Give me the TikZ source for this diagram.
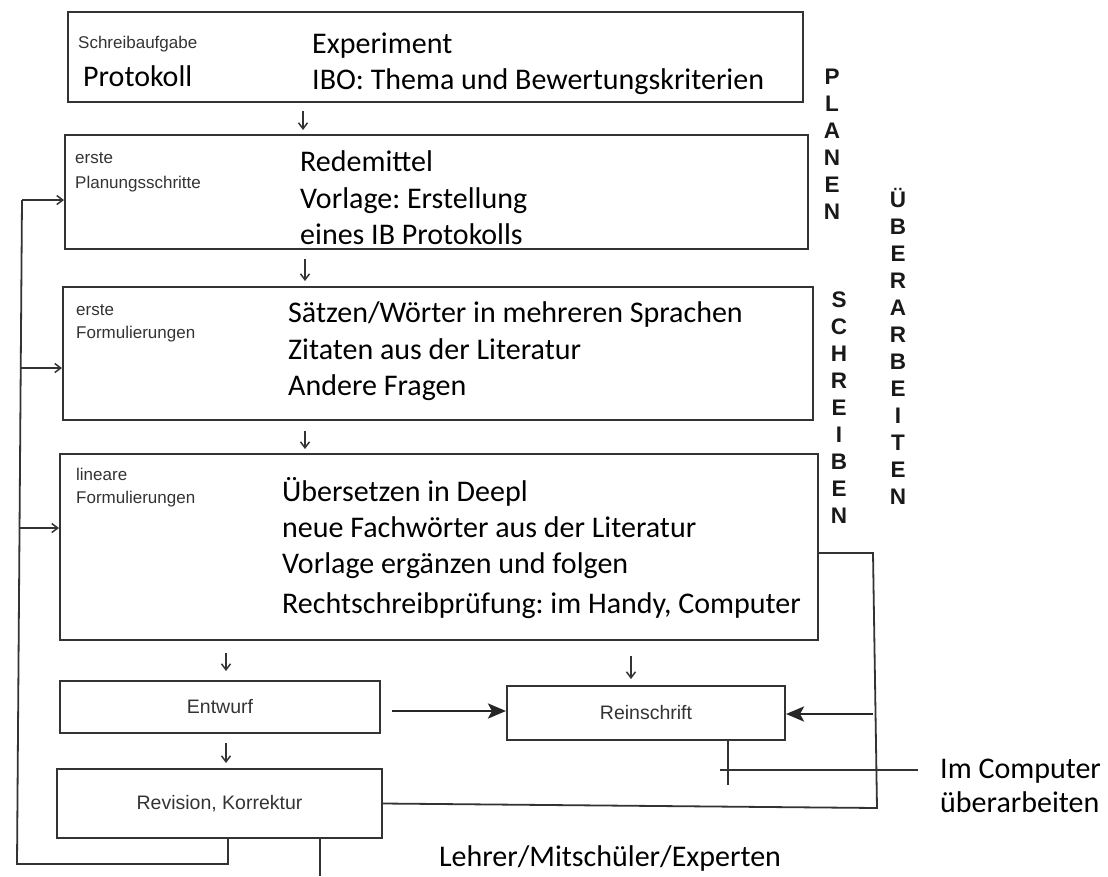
\documentclass[tikz,border=0pt]{standalone}
\usepackage{fontspec}
\setmainfont{Carlito}
\newfontfamily\scanfont{Liberation Sans}
\usetikzlibrary{arrows.meta}
\definecolor{scanline}{HTML}{333333}
\definecolor{scantext}{HTML}{333333}
\frenchspacing
\begin{document}
\begin{tikzpicture}[x=1pt,y=-1pt,
        box/.style={draw=scanline,line width=2pt,inner sep=0pt},
        tag/.style={font=\scanfont\fontsize{17}{20}\selectfont,text=scantext,anchor=base west,inner sep=0pt},
        item/.style={font=\fontsize{30}{34}\selectfont,anchor=base west,inner sep=0pt},
        stage/.style={font=\scanfont\bfseries\fontsize{22.5}{27}\selectfont,align=center,anchor=north,inner sep=0pt,text=black!90},
        arr/.style={draw=scanline,line width=1.5pt,-{Straight Barb[length=6pt,width=9pt]}},
        big/.style={draw=black!85,line width=2.8pt,-{Stealth[length=18pt,width=15pt,inset=4pt]}},
        line/.style={draw=scanline,line width=1.8pt}]
        \useasboundingbox (0,0) rectangle (1108,876);
        % boxes
        \node[box,minimum width=735pt,minimum height=90pt] (b1) at (435.5,57) {};
        \node[box,minimum width=743pt,minimum height=114pt] (b2) at (436.5,192) {};
        \node[box,minimum width=750pt,minimum height=133pt] (b3) at (438,353.5) {};
        \node[box,minimum width=758pt,minimum height=186pt] (b4) at (439,547) {};
        \node[box,minimum width=320pt,minimum height=52pt,font=\scanfont\fontsize{19.5}{22}\selectfont,text=scantext] (ew) at (220,707) {Entwurf};
        \node[box,minimum width=278pt,minimum height=54pt,font=\scanfont\fontsize{19.5}{22}\selectfont,text=scantext] (rs) at (646,713) {Reinschrift};
        \node[box,minimum width=325pt,minimum height=69pt,font=\scanfont\fontsize{19.5}{22}\selectfont,text=scantext] (rv) at (219.5,803.5) {Revision, Korrektur};
        % texts
        \node[tag] (s1) at (78,48) {Schreibaufgabe};
        \node[item] (s2) at (83,86) {Protokoll};
        \node[item] (s3) at (312,53) {Experiment};
        \node[item] (s4) at (312,89) {IBO: Thema und Bewertungskriterien};
        \node[tag] (p1) at (75,163) {erste};
        \node[tag] (p2) at (75,188) {Planungsschritte};
        \node[item] (p3) at (300,171) {Redemittel};
        \node[item] (p4) at (300,208) {Vorlage: Erstellung};
        \node[item] (p5) at (300,244) {eines IB Protokolls};
        \node[tag] (f1) at (76,315) {erste};
        \node[tag] (f2) at (76,338) {Formulierungen};
        \node[item] (f3) at (288,322) {Sätzen/Wörter in mehreren Sprachen};
        \node[item] (f4) at (288,359) {Zitaten aus der Literatur};
        \node[item] (f5) at (288,395) {Andere Fragen};
        \node[tag] (l1) at (76,480) {lineare};
        \node[tag] (l2) at (76,503) {Formulierungen};
        \node[item] (l3) at (282,501) {Übersetzen in Deepl};
        \node[item] (l4) at (282,537) {neue Fachwörter aus der Literatur};
        \node[item] (l5) at (282,573) {Vorlage ergänzen und folgen};
        \node[item] (l6) at (282,613) {Rechtschreibprüfung: im Handy, Computer};
        \node[item] (ic1) at (940,778) {Im Computer};
        \node[item] (ic2) at (940,812) {überarbeiten};
        \node[item,anchor=base] (lm) at (610,866) {Lehrer/Mitschüler/Experten};
        \node[stage] (pl) at (832,69) {P\\L\\A\\N\\E\\N};
        \node[stage] (sc) at (839,292) {S\\C\\H\\R\\E\\I\\B\\E\\N};
        \node[stage] (ub) at (898,188) {Ü\\B\\E\\R\\A\\R\\B\\E\\I\\T\\E\\N};
        % down arrows
        \coordinate (a1) at (303,0);
        \coordinate (a2) at (305,0);
        \coordinate (a4) at (226,0);
        \coordinate (a5) at (631,0);
        \draw[arr,shorten <=8pt,shorten >=4pt] (b1.south -| a1) -- (b2.north -| a1);
        \draw[arr,shorten <=9pt,shorten >=5pt] (b2.south -| a2) -- (b3.north -| a2);
        \draw[arr,shorten <=10pt,shorten >=4pt] (b3.south -| a2) -- (b4.north -| a2);
        \draw[arr,shorten <=12pt,shorten >=9pt] (b4.south -| a4) -- (ew.north -| a4);
        \draw[arr,shorten <=15pt,shorten >=6pt] (b4.south -| a5) -- (rs.north -| a5);
        \draw[arr,shorten <=9pt,shorten >=5pt] (ew.south -| a4) -- (rv.north -| a4);
        % loop back on the left
        \coordinate (c1) at (228,864);
        \coordinate (c2) at (17,864);
        \coordinate (c3) at (22,200);
        \coordinate (c4) at (21,368);
        \coordinate (c5) at (19,528);
        \draw[line] (rv.south -| c1) -- (c1) -- (c2) -- (c3);
        \draw[arr] (c3) -- (b2.west |- c3);
        \draw[arr] (c4) -- (b3.west |- c4);
        \draw[arr] (c5) -- (b4.west |- c5);
        % loop on the right
        \coordinate (r1) at (873,553);
        \coordinate (r2) at (877,808);
        \coordinate (r3) at (873,714);
        \draw[line] (b4.east |- r1) -- (r1) -- (r2) -- (rv.east);
        \draw[big] (r3) -- (rs.east |- r3);
        \coordinate (e1) at (392,711);
        \draw[big] (e1) -- (rs.west |- e1);
        % computer and helpers
        \coordinate (h1) at (728,785);
        \coordinate (h2) at (720,770);
        \draw[line] (rs.south -| h1) -- (h1);
        \draw[line] (h2) -- (918,770);
        \coordinate (d1) at (320,876);
        \draw[line] (rv.south -| d1) -- (d1);
\end{tikzpicture}
\end{document}
